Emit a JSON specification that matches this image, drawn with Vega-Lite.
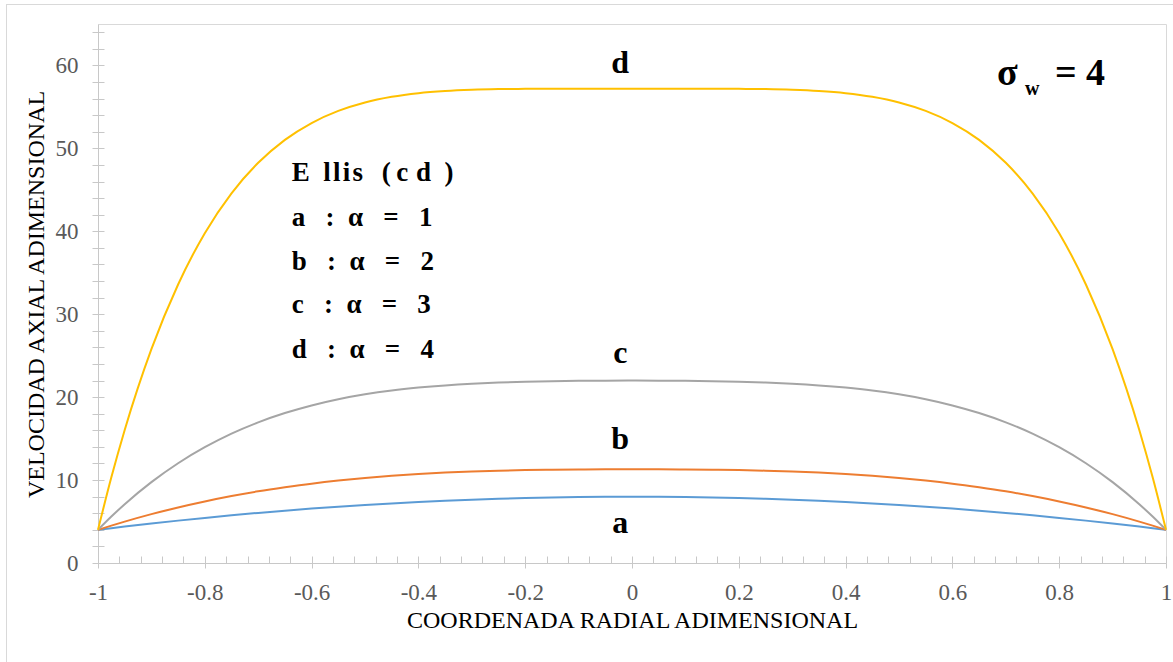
{
  "$schema": "https://vega.github.io/schema/vega-lite/v6.json",
  "autosize": {"type": "none"},
  "padding": {"left": 98, "top": 24, "right": 7, "bottom": 99},
  "width": 1068,
  "height": 539,
  "background": "#ffffff",
  "config": {
    "view": {"stroke": "#d9d9d9", "strokeWidth": 1},
    "axis": {
      "grid": false,
      "domainColor": "#c8c8c8",
      "tickColor": "#c8c8c8",
      "labelFont": "Liberation Serif",
      "labelFontSize": 23,
      "labelColor": "#595959",
      "titleFont": "Liberation Serif",
      "titleFontSize": 24,
      "titleFontWeight": "normal",
      "titleColor": "#000000"
    }
  },
  "data": {
    "values": [
      {"x": -1, "a": 4, "b": 4, "c": 4, "d": 4},
      {"x": -0.975, "a": 4.2, "b": 4.51, "c": 5.6, "d": 10.33},
      {"x": -0.95, "a": 4.39, "b": 4.99, "c": 7.09, "d": 16.04},
      {"x": -0.9, "a": 4.76, "b": 5.89, "c": 9.75, "d": 25.79},
      {"x": -0.85, "a": 5.11, "b": 6.7, "c": 12.03, "d": 33.59},
      {"x": -0.8, "a": 5.44, "b": 7.42, "c": 13.96, "d": 39.77},
      {"x": -0.75, "a": 5.75, "b": 8.07, "c": 15.6, "d": 44.58},
      {"x": -0.7, "a": 6.04, "b": 8.64, "c": 16.96, "d": 48.26},
      {"x": -0.65, "a": 6.31, "b": 9.13, "c": 18.08, "d": 51.03},
      {"x": -0.6, "a": 6.56, "b": 9.57, "c": 19.0, "d": 53.06},
      {"x": -0.55, "a": 6.79, "b": 9.94, "c": 19.75, "d": 54.52},
      {"x": -0.5, "a": 7.0, "b": 10.25, "c": 20.34, "d": 55.54},
      {"x": -0.45, "a": 7.19, "b": 10.51, "c": 20.8, "d": 56.22},
      {"x": -0.4, "a": 7.36, "b": 10.73, "c": 21.15, "d": 56.66},
      {"x": -0.35, "a": 7.51, "b": 10.9, "c": 21.42, "d": 56.92},
      {"x": -0.3, "a": 7.64, "b": 11.03, "c": 21.62, "d": 57.07},
      {"x": -0.25, "a": 7.75, "b": 11.13, "c": 21.76, "d": 57.15},
      {"x": -0.2, "a": 7.84, "b": 11.21, "c": 21.86, "d": 57.18},
      {"x": -0.15, "a": 7.91, "b": 11.25, "c": 21.93, "d": 57.2},
      {"x": -0.1, "a": 7.96, "b": 11.28, "c": 21.97, "d": 57.2},
      {"x": -0.05, "a": 7.99, "b": 11.3, "c": 21.99, "d": 57.2},
      {"x": 0, "a": 8.0, "b": 11.3, "c": 22.0, "d": 57.2},
      {"x": 0.05, "a": 7.99, "b": 11.3, "c": 21.99, "d": 57.2},
      {"x": 0.1, "a": 7.96, "b": 11.28, "c": 21.97, "d": 57.2},
      {"x": 0.15, "a": 7.91, "b": 11.25, "c": 21.93, "d": 57.2},
      {"x": 0.2, "a": 7.84, "b": 11.21, "c": 21.86, "d": 57.18},
      {"x": 0.25, "a": 7.75, "b": 11.13, "c": 21.76, "d": 57.15},
      {"x": 0.3, "a": 7.64, "b": 11.03, "c": 21.62, "d": 57.07},
      {"x": 0.35, "a": 7.51, "b": 10.9, "c": 21.42, "d": 56.92},
      {"x": 0.4, "a": 7.36, "b": 10.73, "c": 21.15, "d": 56.66},
      {"x": 0.45, "a": 7.19, "b": 10.51, "c": 20.8, "d": 56.22},
      {"x": 0.5, "a": 7.0, "b": 10.25, "c": 20.34, "d": 55.54},
      {"x": 0.55, "a": 6.79, "b": 9.94, "c": 19.75, "d": 54.52},
      {"x": 0.6, "a": 6.56, "b": 9.57, "c": 19.0, "d": 53.06},
      {"x": 0.65, "a": 6.31, "b": 9.13, "c": 18.08, "d": 51.03},
      {"x": 0.7, "a": 6.04, "b": 8.64, "c": 16.96, "d": 48.26},
      {"x": 0.75, "a": 5.75, "b": 8.07, "c": 15.6, "d": 44.58},
      {"x": 0.8, "a": 5.44, "b": 7.42, "c": 13.96, "d": 39.77},
      {"x": 0.85, "a": 5.11, "b": 6.7, "c": 12.03, "d": 33.59},
      {"x": 0.9, "a": 4.76, "b": 5.89, "c": 9.75, "d": 25.79},
      {"x": 0.95, "a": 4.39, "b": 4.99, "c": 7.09, "d": 16.04},
      {"x": 0.975, "a": 4.2, "b": 4.51, "c": 5.6, "d": 10.33},
      {"x": 1, "a": 4, "b": 4, "c": 4, "d": 4}
    ]
  },
  "resolve": {"axis": {"x": "independent", "y": "independent"}},
  "layer": [
    {
      "mark": {"type": "rect", "fillOpacity": 0, "stroke": "#d9d9d9", "strokeWidth": 1},
      "encoding": {
        "x": {"datum": -1.1713, "type": "quantitative", "scale": {"domain": [-1, 1], "nice": false, "zero": false}, "axis": null},
        "x2": {"datum": 1.03},
        "y": {"datum": 67.35, "type": "quantitative", "scale": {"domain": [0, 65], "nice": false}, "axis": null},
        "y2": {"datum": -20}
      }
    },
    {
      "transform": [{"fold": ["a", "b", "c", "d"], "as": ["serie", "v"]}],
      "mark": {"type": "line", "strokeWidth": 2, "interpolate": "monotone"},
      "encoding": {
        "x": {
          "field": "x", "type": "quantitative",
          "scale": {"domain": [-1, 1], "nice": false, "zero": false},
          "axis": {
            "orient": "bottom",
            "values": [-1, -0.8, -0.6, -0.4, -0.2, 0, 0.2, 0.4, 0.6, 0.8, 1],
            "labelExpr": "toString(datum.value)",
            "tickSize": 5,
            "labelPadding": 13,
            "labelFlush": false,
            "labelOverlap": false,
            "title": "COORDENADA RADIAL ADIMENSIONAL",
            "titleX": 534,
            "titleY": 64,
            "titleBaseline": "alphabetic",
            "titleAnchor": null
          }
        },
        "y": {
          "field": "v", "type": "quantitative",
          "scale": {"domain": [0, 65], "nice": false},
          "axis": {
            "orient": "left",
            "values": [0, 2, 4, 6, 8, 10, 12, 14, 16, 18, 20, 22, 24, 26, 28, 30, 32, 34, 36, 38, 40, 42, 44, 46, 48, 50, 52, 54, 56, 58, 60, 62, 64],
            "labelExpr": "datum.value % 10 === 0 ? datum.label : ''",
            "tickSize": 6,
            "labelPadding": 14,
            "labelOverlap": false,
            "labelFlush": false,
            "title": "VELOCIDAD AXIAL ADIMENSIONAL",
            "titleX": -62,
            "titleY": 270,
            "titleBaseline": "middle",
            "titleAnchor": null
          }
        },
        "color": {
          "field": "serie", "type": "nominal",
          "scale": {"domain": ["a", "b", "c", "d"], "range": ["#5b9bd5", "#ed7d31", "#a5a5a5", "#ffc000"]},
          "legend": null
        }
      }
    },
    {
      "data": {
        "values": [
          {"label": "a", "px": -0.022, "py": 4.82},
          {"label": "b", "px": -0.022, "py": 14.94},
          {"label": "c", "px": -0.022, "py": 25.3},
          {"label": "d", "px": -0.022, "py": 60.24}
        ]
      },
      "mark": {"type": "text", "font": "Liberation Serif", "fontWeight": "bold", "fontSize": 32, "baseline": "middle", "align": "center", "color": "#000000"},
      "encoding": {
        "x": {
          "field": "px", "type": "quantitative",
          "scale": {"domain": [-1, 1], "nice": false, "zero": false},
          "axis": {
            "orient": "bottom",
            "values": [-1, -0.96, -0.92, -0.88, -0.84, -0.8, -0.76, -0.72, -0.68, -0.64, -0.6, -0.56, -0.52, -0.48, -0.44, -0.4, -0.36, -0.32, -0.28, -0.24, -0.2, -0.16, -0.12, -0.08, -0.04, 0, 0.04, 0.08, 0.12, 0.16, 0.2, 0.24, 0.28, 0.32, 0.36, 0.4, 0.44, 0.48, 0.52, 0.56, 0.6, 0.64, 0.68, 0.72, 0.76, 0.8, 0.84, 0.88, 0.92, 0.96, 1],
            "tickSize": -7,
            "labels": false,
            "domain": false,
            "title": null
          }
        },
        "y": {
          "field": "py", "type": "quantitative",
          "scale": {"domain": [0, 65], "nice": false},
          "axis": {
            "orient": "left",
            "values": [0, 2, 4, 6, 8, 10, 12, 14, 16, 18, 20, 22, 24, 26, 28, 30, 32, 34, 36, 38, 40, 42, 44, 46, 48, 50, 52, 54, 56, 58, 60, 62, 64],
            "tickSize": -6,
            "labels": false,
            "domain": false,
            "title": null
          }
        },
        "text": {"field": "label"}
      }
    },
    {
      "data": {
        "values": [
          {"line": "E\u2002l\u200al\u200ai\u200as\u2002\u2009(\u2009c\u2009\u200ad\u2002)", "px": -0.6373, "py": 46.99},
          {"line": "a\u2002\u2005:\u2002\u03b1\u2002\u2005=\u2002\u20051", "px": -0.6373, "py": 41.57},
          {"line": "b\u2002\u2005:\u2002\u03b1\u2002\u2005=\u2002\u20052", "px": -0.6373, "py": 36.27},
          {"line": "c\u2002\u2005:\u2002\u03b1\u2002\u2005=\u2002\u20053", "px": -0.6373, "py": 31.08},
          {"line": "d\u2002\u2005:\u2002\u03b1\u2002\u2005=\u2002\u20054", "px": -0.6373, "py": 25.66}
        ]
      },
      "mark": {"type": "text", "font": "Liberation Serif", "fontWeight": "bold", "fontSize": 27, "baseline": "middle", "align": "left", "color": "#000000"},
      "encoding": {
        "x": {"field": "px", "type": "quantitative", "scale": {"domain": [-1, 1], "nice": false, "zero": false}, "axis": null},
        "y": {"field": "py", "type": "quantitative", "scale": {"domain": [0, 65], "nice": false}, "axis": null},
        "text": {"field": "line"}
      }
    },
    {
      "data": {
        "values": [
          {"part": "\u03c3", "px": 0.6835, "py": 57.6},
          {"part": "= 4", "px": 0.792, "py": 57.6}
        ]
      },
      "mark": {"type": "text", "font": "Liberation Serif", "fontWeight": "bold", "fontSize": 38, "baseline": "alphabetic", "align": "left", "color": "#000000"},
      "encoding": {
        "x": {"field": "px", "type": "quantitative", "scale": {"domain": [-1, 1], "nice": false, "zero": false}, "axis": null},
        "y": {"field": "py", "type": "quantitative", "scale": {"domain": [0, 65], "nice": false}, "axis": null},
        "text": {"field": "part"}
      }
    },
    {
      "data": {"values": [{"part": "w", "px": 0.736, "py": 56.4}]},
      "mark": {"type": "text", "font": "Liberation Serif", "fontWeight": "bold", "fontSize": 20, "baseline": "alphabetic", "align": "left", "color": "#000000"},
      "encoding": {
        "x": {"field": "px", "type": "quantitative", "scale": {"domain": [-1, 1], "nice": false, "zero": false}, "axis": null},
        "y": {"field": "py", "type": "quantitative", "scale": {"domain": [0, 65], "nice": false}, "axis": null},
        "text": {"field": "part"}
      }
    }
  ]
}
